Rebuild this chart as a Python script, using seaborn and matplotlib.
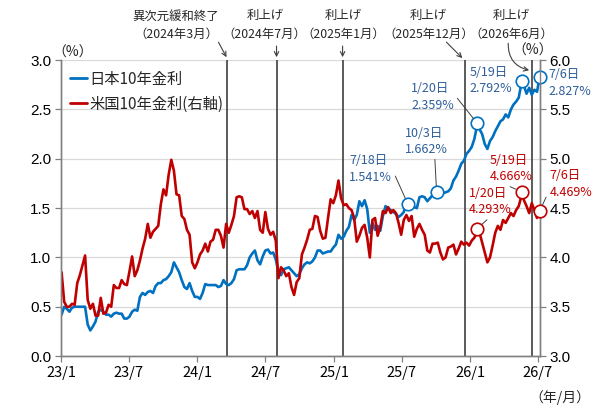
import pandas as pd
import seaborn as sns
import matplotlib.pyplot as plt

# weekly (Monday) closes, one line per month
jp_10y = [
    0.42, 0.50, 0.48, 0.45, 0.49,  # 2023-01
    0.50, 0.50, 0.50, 0.50,
    0.50, 0.32, 0.26, 0.30,
    0.35, 0.45, 0.47, 0.45,
    0.42, 0.42, 0.40, 0.43, 0.44,
    0.43, 0.43, 0.38, 0.38,
    0.40, 0.45, 0.47, 0.46, 0.60,  # 2023-07
    0.64, 0.62, 0.65, 0.66,
    0.64, 0.71, 0.74, 0.74,
    0.77, 0.78, 0.81, 0.85, 0.95,
    0.90, 0.85, 0.77, 0.70,
    0.68, 0.74, 0.66, 0.60,
    0.60, 0.58, 0.64, 0.73, 0.72,  # 2024-01
    0.72, 0.72, 0.72, 0.70,
    0.71, 0.77, 0.73, 0.72,
    0.74, 0.78, 0.87, 0.88, 0.88,
    0.88, 0.92, 1.00, 1.04,
    1.07, 0.97, 0.93, 1.01,
    1.07, 1.08, 1.04, 1.05, 0.98,  # 2024-07
    0.85, 0.82, 0.88, 0.89,
    0.90, 0.87, 0.84, 0.81, 0.83,
    0.89, 0.93, 0.95, 0.94,
    0.96, 1.00, 1.07, 1.07,
    1.04, 1.05, 1.06, 1.06, 1.10,
    1.13, 1.23, 1.19, 1.21,  # 2025-01
    1.27, 1.31, 1.43, 1.38,
    1.43, 1.57, 1.52, 1.58, 1.49,
    1.25, 1.35, 1.28, 1.32,
    1.27, 1.42, 1.52, 1.50,
    1.48, 1.46, 1.44, 1.41, 1.43,
    1.46, 1.57, 1.52, 1.55,  # 2025-07
    1.51, 1.50, 1.61, 1.62,
    1.61, 1.57, 1.60, 1.63, 1.65,
    1.69, 1.70, 1.65, 1.66,
    1.67, 1.70, 1.78, 1.82,
    1.88, 1.95, 1.98, 2.05, 2.08,
    2.12, 2.20, 2.33, 2.30,  # 2026-01
    2.25, 2.15, 2.10, 2.18,
    2.22, 2.28, 2.33, 2.38, 2.40,
    2.45, 2.42, 2.50, 2.55,
    2.58, 2.62, 2.76, 2.74,
    2.66, 2.72, 2.65, 2.70, 2.68,
    2.827,  # 2026-07-06
]

us_10y = [
    3.85, 3.55, 3.50, 3.50, 3.53,  # 2023-01
    3.52, 3.74, 3.82, 3.92,
    4.02, 3.57, 3.48, 3.53,
    3.41, 3.41, 3.59, 3.43,
    3.44, 3.52, 3.50, 3.72, 3.69,
    3.69, 3.77, 3.73, 3.72,
    3.86, 4.01, 3.81, 3.87, 3.97,  # 2023-07
    4.09, 4.19, 4.34, 4.20,
    4.26, 4.29, 4.32, 4.54,
    4.69, 4.63, 4.84, 4.99, 4.88,
    4.64, 4.63, 4.42, 4.39,
    4.28, 4.23, 3.95, 3.89,
    3.95, 4.03, 4.07, 4.14, 4.06,  # 2024-01
    4.16, 4.18, 4.28, 4.28,
    4.22, 4.10, 4.34, 4.25,
    4.33, 4.42, 4.61, 4.62, 4.61,
    4.49, 4.49, 4.44, 4.47,
    4.40, 4.47, 4.28, 4.25,
    4.46, 4.29, 4.23, 4.26, 4.17,  # 2024-07
    3.79, 3.90, 3.87, 3.81,
    3.84, 3.70, 3.62, 3.75, 3.79,
    4.03, 4.10, 4.18, 4.28,
    4.29, 4.42, 4.41, 4.27,
    4.19, 4.20, 4.40, 4.59, 4.55,
    4.63, 4.78, 4.60, 4.53,  # 2025-01
    4.54, 4.50, 4.48, 4.40,
    4.16, 4.22, 4.30, 4.33, 4.20,
    4.00, 4.38, 4.40, 4.22,
    4.31, 4.47, 4.45, 4.51,
    4.45, 4.48, 4.45, 4.35, 4.23,
    4.38, 4.43, 4.37, 4.42,  # 2025-07
    4.21, 4.29, 4.34, 4.28,
    4.23, 4.07, 4.05, 4.14, 4.14,
    4.15, 4.05, 3.98, 4.00,
    4.10, 4.11, 4.13, 4.03,
    4.09, 4.16, 4.13, 4.15, 4.12,
    4.17, 4.20, 4.25, 4.25,  # 2026-01
    4.15, 4.05, 3.95, 4.00,
    4.12, 4.25, 4.32, 4.28, 4.38,
    4.35, 4.40, 4.45, 4.42,
    4.48, 4.52, 4.62, 4.58,
    4.52, 4.45, 4.55, 4.48, 4.40,
    4.469,  # 2026-07-06
]

jp_mark_dates = ["2025-07-18", "2025-10-03", "2026-01-20", "2026-05-19", "2026-07-06"]
jp_mark_vals = [1.541, 1.662, 2.359, 2.792, 2.827]
us_mark_dates = ["2026-01-20", "2026-05-19", "2026-07-06"]
us_mark_vals = [4.293, 4.666, 4.469]

event_dates = ["2024-03-19", "2024-07-31", "2025-01-24", "2025-12-19", "2026-06-16"]
event_titles = ["異次元緩和終了", "利上げ", "利上げ", "利上げ", "利上げ"]
event_months = ["（2024年3月）", "（2024年7月）", "（2025年1月）", "（2025年12月）", "（2026年6月）"]

tick_dates = ["2023-01-01", "2023-07-01", "2024-01-01", "2024-07-01",
              "2025-01-01", "2025-07-01", "2026-01-01", "2026-07-01"]
tick_labels = ["23/1", "23/7", "24/1", "24/7", "25/1", "25/7", "26/1", "26/7"]

weeks = pd.date_range("2023-01-02", periods=len(jp_10y), freq="7D")


def make_series(vals, mark_dates, mark_vals):
    df = pd.DataFrame({"date": weeks, "rate": vals})
    marks = pd.DataFrame({"date": pd.to_datetime(mark_dates), "rate": mark_vals})
    df = pd.concat([df, marks]).drop_duplicates("date", keep="last")
    return df.sort_values("date")


jp_df = make_series(jp_10y, jp_mark_dates, jp_mark_vals)
us_df = make_series(us_10y, us_mark_dates, us_mark_vals)

sns.set_theme(style="white")
plt.rcParams["font.family"] = ["Noto Sans CJK JP", "DejaVu Sans"]

blue = "#0070C0"
red = "#C00000"
blue_txt = "#2F5F9A"
dark = "#404040"
spine_c = "#808080"

fig = plt.figure(figsize=(6, 4.15), dpi=100)
ax = fig.add_axes([0.102, 0.142, 0.798, 0.713])
ax2 = ax.twinx()

sns.lineplot(data=jp_df, x="date", y="rate", ax=ax, color=blue, lw=1.9, estimator=None)
sns.lineplot(data=us_df, x="date", y="rate", ax=ax2, color=red, lw=1.9, estimator=None)

ax.set_xlim(pd.Timestamp("2023-01-01"), pd.Timestamp("2026-07-07"))
ax.set_ylim(0, 3)
ax2.set_ylim(3, 6)
ax.set_xlabel("")
ax.set_ylabel("")
ax2.set_ylabel("")

ax.set_yticks([0, 0.5, 1.0, 1.5, 2.0, 2.5, 3.0])
ax2.set_yticks([3.0, 3.5, 4.0, 4.5, 5.0, 5.5, 6.0])
for a in (ax, ax2):
    a.set_yticklabels([f"{t:.1f}" for t in a.get_yticks()],
                      family="Liberation Sans", fontsize=11, color="black")
ax.set_xticks(pd.to_datetime(tick_dates))
ax.set_xticklabels(tick_labels, fontsize=10.5, color="black")

ax.grid(axis="y", color="#d9d9d9", lw=0.9)
ax.set_axisbelow(True)
ax2.grid(False)
for a in (ax, ax2):
    a.spines["top"].set_visible(False)
    for s in ("left", "right", "bottom"):
        a.spines[s].set_color(spine_c)
        a.spines[s].set_linewidth(1.0)
ax.tick_params(axis="both", direction="out", length=4, width=0.9, color=spine_c, pad=3,
               left=True, bottom=True)
ax2.tick_params(axis="y", direction="out", length=4, width=0.9, color=spine_c, pad=3, right=True)

# policy event lines and their captions
arrow_tail = [(-5.8, 10.8), (0, 8), (0, 8), (-11.5, 11.5), (-15.1, 19.4)]
arrow_head = [(0, 1.01), (0, 1.01), (0, 1.01), (-8, 1.007), (-8, 0.966)]
text_dx = [-36.4, -8.5, 0.5, -26.5, -15.0]
for d, title, month, tail, head, dx in zip(event_dates, event_titles, event_months,
                                         arrow_tail, arrow_head, text_dx):
    d = pd.Timestamp(d)
    ax.axvline(d, color=dark, lw=1.2, zorder=1)
    ax.annotate(f"{title}\n{month}", xy=(d, 1.0), xycoords=("data", "axes fraction"),
                xytext=(dx, 25.2), textcoords="offset points", ha="center", va="center",
                fontsize=8.9, linespacing=1.55, annotation_clip=False)
    ax.annotate("", xy=(d + pd.Timedelta(days=head[0]), head[1]),
                xycoords=("data", "axes fraction"), xytext=tail, textcoords="offset points",
                annotation_clip=False,
                arrowprops=dict(arrowstyle="->", color=dark, lw=0.8, shrinkA=0, shrinkB=0,
                                mutation_scale=8,
                                connectionstyle="arc3,rad=0.4" if head[1] < 1 else "arc3"))

# marked values (offsets in the same order as the mark lists)
jp_offsets = [(-42.3, 25.4), (-23, 36.5), (-47.5, 18.9), (-37.4, 0), (6.7, -4.0)]
jp_relpos = [(1, 0.5), (0.7, 0), (1, 0.6), None, None]
us_offsets = [(-5.8, 19.3), (-23, 16.6), (7, 19.4)]
us_relpos = [(0.5, 0), (0.3, 0), (0, 0.3)]


def mark(a, dates, vals, offsets, relpos, color, txt_color):
    for d, v, off, rp in zip(dates, vals, offsets, relpos):
        d = pd.Timestamp(d)
        a.plot([d], [v], marker="o", ms=9, mfc="white", mec=color, mew=1.2,
               zorder=6, clip_on=False)
        props = None
        if rp is not None:
            props = dict(arrowstyle="-", color=dark, lw=0.7, relpos=rp,
                         shrinkA=0, shrinkB=4.5)
        a.annotate(f"{d.month}/{d.day}日\n{v:.3f}%", xy=(d, v), xytext=off,
                   textcoords="offset points", ha="left", va="center", fontsize=9,
                   color=txt_color, linespacing=1.35, arrowprops=props,
                   annotation_clip=False, zorder=7)


mark(ax, jp_mark_dates, jp_mark_vals, jp_offsets, jp_relpos, blue, blue_txt)
mark(ax2, us_mark_dates, us_mark_vals, us_offsets, us_relpos, red, red)

handles = [plt.Line2D([], [], color=blue, lw=2.0), plt.Line2D([], [], color=red, lw=2.0)]
ax2.legend(handles, ["日本10年金利", "米国10年金利(右軸)"], loc="upper left",
           bbox_to_anchor=(0.005, 0.985), frameon=False, fontsize=11, handlelength=1.1,
           handletextpad=0.2, labelspacing=0.5, borderaxespad=0)

fig.text(73 / 600, 1 - 53 / 415, "（%）", ha="center", va="center", fontsize=10)
fig.text(533 / 600, 1 - 51 / 415, "（%）", ha="center", va="center", fontsize=10)
fig.text(590 / 600, 1 - 398 / 415, "（年/月）", ha="right", va="center", fontsize=10)

fig.savefig("out.png", dpi=100)
